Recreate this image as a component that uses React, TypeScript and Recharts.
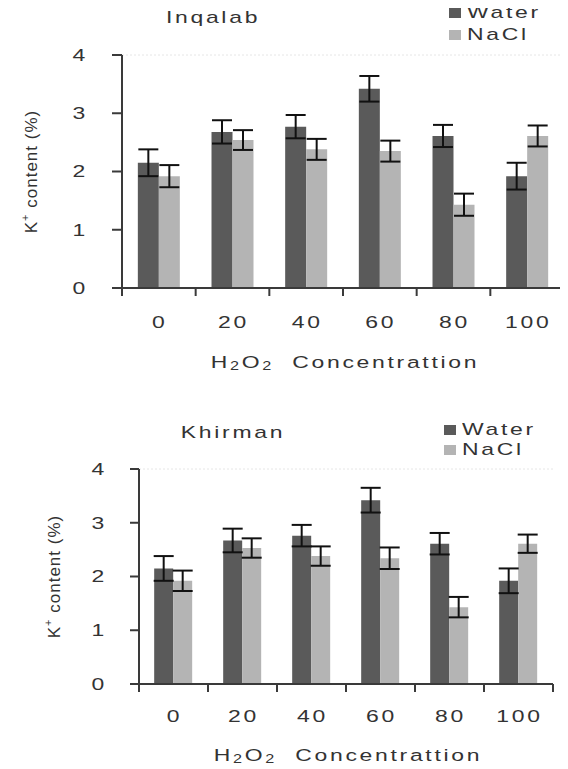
import React from "react";
import { BarChart, Bar, XAxis, YAxis, ErrorBar, ReferenceLine } from "recharts";

const categories = ["0", "20", "40", "60", "80", "100"];
const yTicks = [0, 1, 2, 3, 4];

const inqalabWater = [2.15, 2.68, 2.77, 3.42, 2.61, 1.92];
const inqalabWaterErr = [0.23, 0.2, 0.2, 0.22, 0.19, 0.23];
const inqalabNacl = [1.92, 2.54, 2.38, 2.35, 1.43, 2.61];
const inqalabNaclErr = [0.19, 0.17, 0.18, 0.18, 0.19, 0.18];

const khirmanWater = [2.15, 2.67, 2.76, 3.42, 2.61, 1.92];
const khirmanWaterErr = [0.23, 0.22, 0.2, 0.23, 0.2, 0.23];
const khirmanNacl = [1.92, 2.53, 2.38, 2.34, 1.43, 2.61];
const khirmanNaclErr = [0.19, 0.18, 0.18, 0.2, 0.19, 0.17];

const FONT = "'Liberation Sans', Arial, sans-serif";
const TEXT = "#333";
const AXIS = "#3a3a3a";
const WATER = "#5a5a5a";
const NACL = "#b4b4b4";
// the original figure is stretched sideways, so text is widened too
const SX = 1.35;
const LS = 2;

interface PanelProps {
  title: string;
  water: number[];
  waterErr: number[];
  nacl: number[];
  naclErr: number[];
  height: number;
  margin: { top: number; right: number; bottom: number; left: number };
  yAxisWidth: number;
  xAxisHeight: number;
  tickSize: number;
  tickMargin: number;
  xTickDy: number;
  xTitleDy: number;
  yLabelX: number;
  band: number;
  gap: string;
  titlePos: [number, number];
  legendX: number;
  legendY: [number, number];
}

function Wide({ x, y, anchor, children }: { x: number; y: number; anchor: string; children: any }) {
  return (
    <text transform={`translate(${x} ${y}) scale(${SX} 1)`} x={0} y={0} textAnchor={anchor}
      dominantBaseline="central" fontSize={17} fill={TEXT} fontFamily={FONT} letterSpacing={LS}>
      {children}
    </text>
  );
}

function Panel(p: PanelProps) {
  const data = categories.map((c, i) => ({
    name: c,
    water: p.water[i],
    waterErr: p.waterErr[i],
    nacl: p.nacl[i],
    naclErr: p.naclErr[i],
  }));

  // tick marks sit between the groups, labels at the group centres
  const XTick = (props: any) => {
    const { x, y, payload, index } = props;
    const half = p.band / 2;
    return (
      <g>
        <line x1={x - half} x2={x - half} y1={y} y2={y + 8} stroke={AXIS} strokeWidth={2} />
        {index === categories.length - 1 && (
          <line x1={x + half} x2={x + half} y1={y} y2={y + 8} stroke={AXIS} strokeWidth={2} />
        )}
        <Wide x={x + 1} y={y + p.xTickDy} anchor="middle">{payload.value}</Wide>
      </g>
    );
  };

  const YTick = (props: any) => {
    const { x, y, payload } = props;
    return <Wide x={x} y={y} anchor="end">{payload.value}</Wide>;
  };

  const XTitle = (props: any) => {
    const vb = props.viewBox;
    return (
      <Wide x={vb.x + vb.width / 2 + 2} y={vb.y + p.xTitleDy} anchor="middle">
        H<tspan fontSize={12} dy={4}>2</tspan>
        <tspan fontSize={17} dy={-4}>O</tspan>
        <tspan fontSize={12} dy={4}>2</tspan>
        <tspan fontSize={17} dy={-4} style={{ whiteSpace: "pre" }}>  Concentrattion</tspan>
      </Wide>
    );
  };

  const YTitle = (props: any) => {
    const vb = props.viewBox;
    const cy = vb.y + vb.height / 2;
    return (
      <text x={p.yLabelX} y={cy} transform={`rotate(-90 ${p.yLabelX} ${cy})`} textAnchor="middle"
        dominantBaseline="central" fontSize={17} fill={TEXT} fontFamily={FONT} letterSpacing={1}>
        K<tspan fontSize={11} dy={-6}>+</tspan>
        <tspan fontSize={17} dy={6}> content (%)</tspan>
      </text>
    );
  };

  const textStyle: React.CSSProperties = {
    fontFamily: FONT,
    fontSize: 17,
    letterSpacing: LS,
    color: TEXT,
    lineHeight: "20px",
    whiteSpace: "nowrap",
  };

  return (
    <div style={{ position: "relative", width: 560, height: p.height }}>
      <BarChart width={560} height={p.height} data={data} margin={p.margin}
        barCategoryGap={p.gap} barGap={0}>
        <ReferenceLine y={4} stroke="#e6e6e6" strokeDasharray="2 2" />
        <XAxis dataKey="name" height={p.xAxisHeight} tickLine={false} tickSize={0} tickMargin={0}
          axisLine={{ stroke: AXIS, strokeWidth: 2 }} tick={<XTick />} interval={0}
          label={{ content: <XTitle /> }} />
        <YAxis domain={[0, 4]} ticks={yTicks} width={p.yAxisWidth} tickSize={p.tickSize}
          tickMargin={p.tickMargin} axisLine={{ stroke: AXIS, strokeWidth: 2 }}
          tickLine={{ stroke: AXIS, strokeWidth: 2 }} tick={<YTick />}
          label={{ content: <YTitle /> }} />
        <Bar dataKey="water" name="Water" fill={WATER} isAnimationActive={false}>
          <ErrorBar dataKey="waterErr" width={10} stroke="#111" strokeWidth={2} />
        </Bar>
        <Bar dataKey="nacl" name="NaCl" fill={NACL} isAnimationActive={false}>
          <ErrorBar dataKey="naclErr" width={10} stroke="#111" strokeWidth={2} />
        </Bar>
      </BarChart>
      <div style={{ ...textStyle, position: "absolute", left: p.titlePos[0], top: p.titlePos[1],
        transform: `translate(-50%, -50%) scaleX(${SX})` }}>
        {p.title}
      </div>
      {[
        { label: "Water", color: WATER, y: p.legendY[0] },
        { label: "NaCl", color: NACL, y: p.legendY[1] },
      ].map((item) => (
        <div key={item.label} style={{ ...textStyle, position: "absolute", left: p.legendX, top: item.y - 10 }}>
          <span style={{ display: "inline-block", width: 12, height: 10, background: item.color,
            verticalAlign: "middle", position: "relative", top: -1 }} />
          <span style={{ display: "inline-block", marginLeft: 6, transform: `scaleX(${SX})`,
            transformOrigin: "left center" }}>{item.label}</span>
        </div>
      ))}
    </div>
  );
}

export default function App() {
  return (
    <div style={{ width: 560 }}>
      <Panel title="Inqalab" water={inqalabWater} waterErr={inqalabWaterErr} nacl={inqalabNacl}
        naclErr={inqalabNaclErr} height={380} margin={{ top: 47, right: 4, bottom: 0, left: 0 }}
        yAxisWidth={114} xAxisHeight={100} tickSize={10} tickMargin={24} xTickDy={34} xTitleDy={74}
        yLabelX={23} band={73.67} gap="21.5%" titlePos={[205, 10]} legendX={441} legendY={[5, 27]} />
      <Panel title="Khirman" water={khirmanWater} waterErr={khirmanWaterErr} nacl={khirmanNacl}
        naclErr={khirmanNaclErr} height={381} margin={{ top: 81, right: 15, bottom: 0, left: 0 }}
        yAxisWidth={131} xAxisHeight={85} tickSize={9} tickMargin={23} xTickDy={32} xTitleDy={71}
        yLabelX={46} band={69} gap="22%" titlePos={[225, 45]} legendX={436} legendY={[42, 62]} />
    </div>
  );
}
